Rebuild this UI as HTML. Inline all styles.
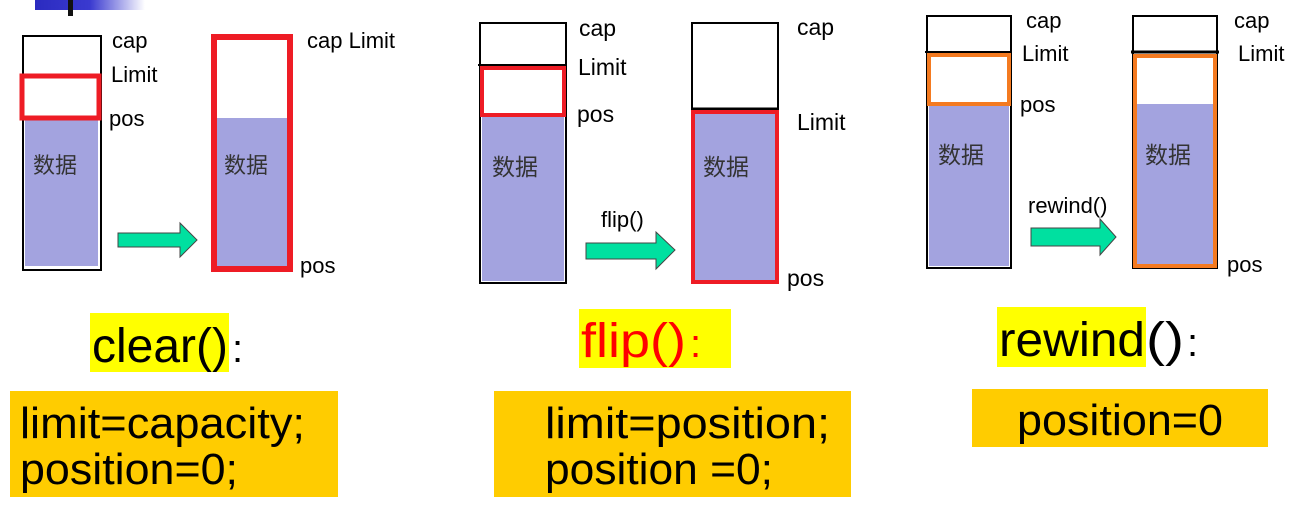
<!DOCTYPE html>
<html><head><meta charset="utf-8"><style>
html,body{margin:0;padding:0;background:#fff;}
svg{display:block;}
text{font-family:"Liberation Sans","Noto Sans CJK SC",sans-serif;}
</style></head><body>
<svg width="1299" height="512" viewBox="0 0 1299 512" xmlns="http://www.w3.org/2000/svg">
<defs>
<linearGradient id="g" x1="0" x2="1"><stop offset="0" stop-color="#2b2bc0"/><stop offset="0.5" stop-color="#3a3ad0"/><stop offset="1" stop-color="#fff"/></linearGradient>
</defs>
<rect x="35" y="0" width="110" height="10" fill="url(#g)"/>
<rect x="68" y="0" width="5" height="16" fill="#111"/>

<!-- Panel 1 -->
<rect x="23" y="36" width="78" height="234" fill="#fff" stroke="#000" stroke-width="2"/>
<rect x="25" y="120" width="73" height="146" fill="#a3a3df"/>
<rect x="22" y="76" width="77" height="42" fill="none" stroke="#ee1c25" stroke-width="5"/>
<text x="33" y="173" font-size="22" fill="#333">数据</text>
<text x="112" y="48" font-size="22">cap</text>
<text x="111" y="82" font-size="22">Limit</text>
<text x="109" y="126" font-size="22">pos</text>
<polygon points="118,233 180,233 180,223 197,240 180,257 180,247 118,247" fill="#00e0a0" stroke="#444" stroke-width="1"/>
<rect x="214" y="37" width="76" height="232" fill="#fff"/>
<rect x="214" y="118" width="76" height="151" fill="#a3a3df"/>
<rect x="214" y="37" width="76" height="232" fill="none" stroke="#ee1c25" stroke-width="6"/>
<text x="224" y="173" font-size="22" fill="#333">数据</text>
<text x="307" y="48" font-size="22">cap  Limit</text>
<text x="300" y="273" font-size="22">pos</text>

<!-- Panel 2 -->
<rect x="480" y="23" width="86" height="260" fill="#fff" stroke="#000" stroke-width="2"/>
<rect x="482" y="116" width="82" height="165" fill="#a3a3df"/>
<line x1="478" y1="65" x2="567" y2="65" stroke="#000" stroke-width="2"/>
<rect x="482" y="68" width="82" height="47" fill="none" stroke="#ee1c25" stroke-width="4"/>
<text x="492" y="175" font-size="23" fill="#333">数据</text>
<text x="579" y="36" font-size="23">cap</text>
<text x="578" y="75" font-size="23">Limit</text>
<text x="577" y="122" font-size="23">pos</text>
<text x="601" y="227" font-size="22">flip()</text>
<polygon points="586,243 656,243 656,232 675,250 656,269 656,259 586,259" fill="#00e0a0" stroke="#444" stroke-width="1"/>
<rect x="692" y="23" width="86" height="260" fill="#fff" stroke="#000" stroke-width="2"/>
<rect x="693" y="111" width="84" height="171" fill="#a3a3df"/>
<line x1="692" y1="109" x2="778" y2="109" stroke="#000" stroke-width="3"/>
<rect x="693" y="112" width="84" height="170" fill="none" stroke="#ee1c25" stroke-width="4"/>
<text x="703" y="175" font-size="23" fill="#333">数据</text>
<text x="797" y="35" font-size="23">cap</text>
<text x="797" y="130" font-size="23">Limit</text>
<text x="787" y="286" font-size="23">pos</text>

<!-- Panel 3 -->
<rect x="927" y="16" width="84" height="252" fill="#fff" stroke="#000" stroke-width="2"/>
<rect x="929" y="104" width="80" height="162" fill="#a3a3df"/>
<line x1="925" y1="52" x2="1012" y2="52" stroke="#000" stroke-width="2"/>
<rect x="929" y="55" width="80" height="49" fill="none" stroke="#f47a20" stroke-width="4"/>
<text x="938" y="163" font-size="23" fill="#333">数据</text>
<text x="1026" y="28" font-size="22">cap</text>
<text x="1022" y="61" font-size="22">Limit</text>
<text x="1020" y="112" font-size="22">pos</text>
<text x="1028" y="213" font-size="22">rewind()</text>
<polygon points="1031,228 1100,228 1100,219 1116,237 1100,255 1100,246 1031,246" fill="#00e0a0" stroke="#444" stroke-width="1"/>
<rect x="1133" y="16" width="84" height="252" fill="#fff" stroke="#000" stroke-width="2"/>
<rect x="1136" y="104" width="78" height="161" fill="#a3a3df"/>
<line x1="1131" y1="52" x2="1219" y2="52" stroke="#000" stroke-width="3"/>
<rect x="1135" y="56" width="80" height="210" fill="none" stroke="#f47a20" stroke-width="4"/>
<text x="1145" y="163" font-size="23" fill="#333">数据</text>
<text x="1234" y="28" font-size="22">cap</text>
<text x="1238" y="61" font-size="22">Limit</text>
<text x="1227" y="272" font-size="22">pos</text>

<!-- Bottom labels -->
<rect x="90" y="313" width="139" height="59" fill="#ffff00"/>
<text x="92" y="362" font-size="48" textLength="136" lengthAdjust="spacingAndGlyphs">clear()</text>
<text x="232" y="362" font-size="40">:</text>
<rect x="579" y="309" width="152" height="59" fill="#ffff00"/>
<text x="581" y="357" font-size="48" fill="#ff0000" textLength="105" lengthAdjust="spacingAndGlyphs">flip()</text>
<text x="690" y="357" font-size="40" fill="#ff0000">:</text>
<rect x="997" y="307" width="149" height="60" fill="#ffff00"/>
<text x="999" y="356" font-size="48" textLength="146" lengthAdjust="spacingAndGlyphs">rewind</text>
<text x="1146" y="356" font-size="48" textLength="38" lengthAdjust="spacingAndGlyphs">()</text>
<text x="1187" y="356" font-size="40">:</text>

<rect x="10" y="391" width="328" height="106" fill="#ffcc00"/>
<text x="20" y="438" font-size="44" textLength="285" lengthAdjust="spacingAndGlyphs">limit=capacity;</text>
<text x="20" y="484" font-size="44" textLength="218" lengthAdjust="spacingAndGlyphs">position=0;</text>
<rect x="494" y="391" width="357" height="106" fill="#ffcc00"/>
<text x="545" y="438" font-size="44" textLength="285" lengthAdjust="spacingAndGlyphs">limit=position;</text>
<text x="545" y="484" font-size="44" textLength="228" lengthAdjust="spacingAndGlyphs">position =0;</text>
<rect x="972" y="389" width="296" height="58" fill="#ffcc00"/>
<text x="1017" y="435" font-size="44" textLength="206" lengthAdjust="spacingAndGlyphs">position=0</text>
</svg>
</body></html>
